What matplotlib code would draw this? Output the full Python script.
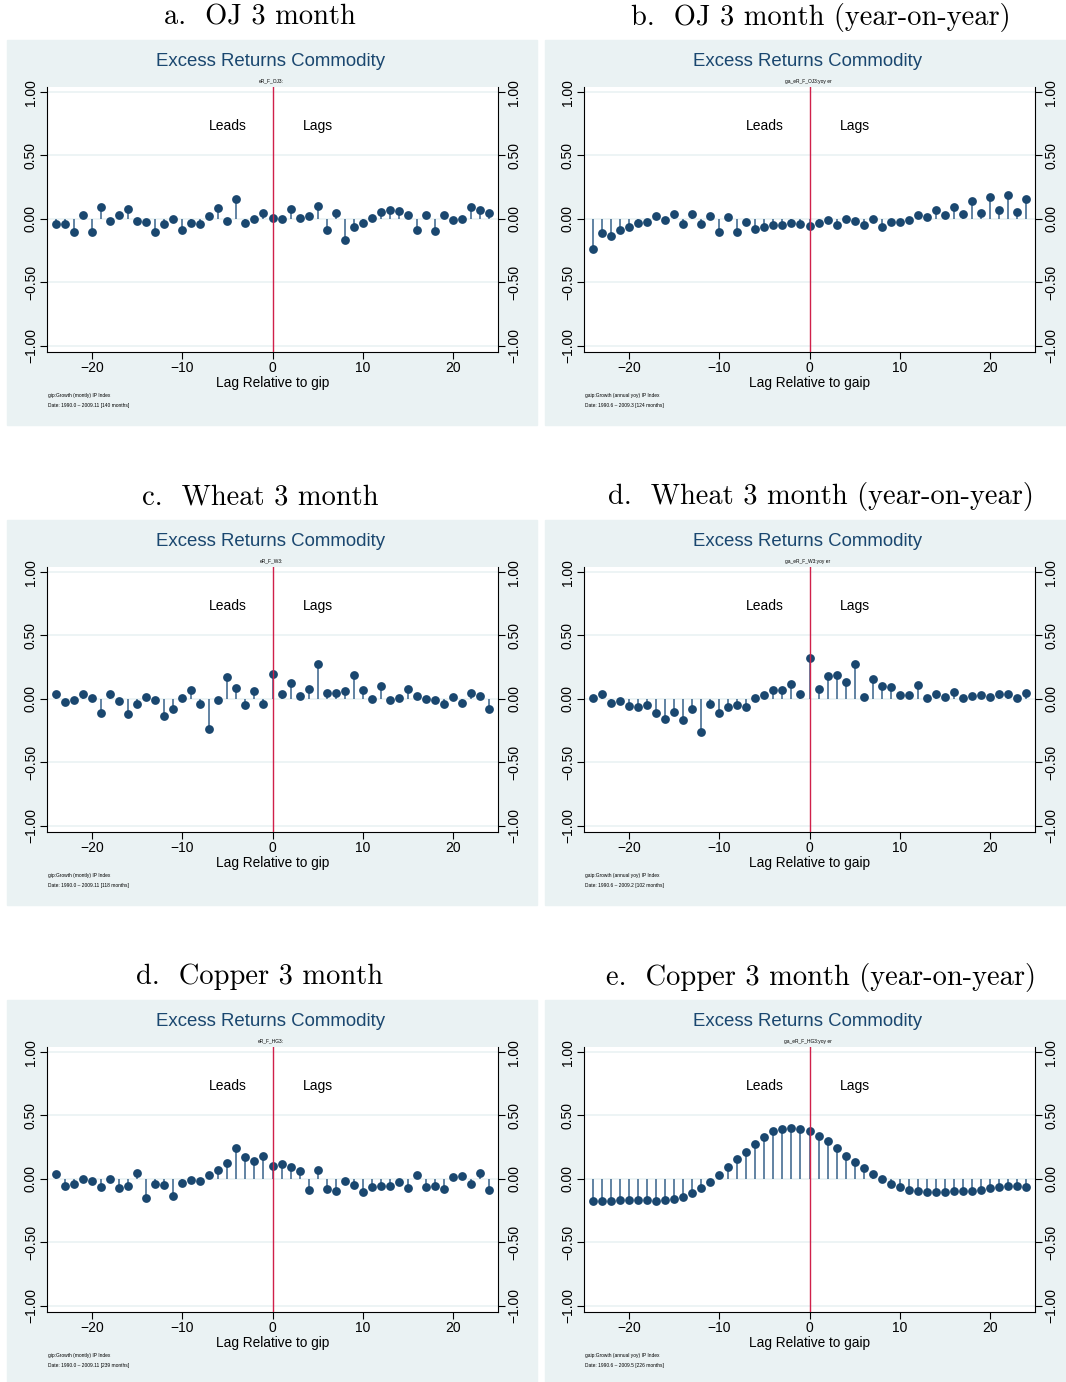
import matplotlib
matplotlib.use("Agg")
import matplotlib.pyplot as plt
import numpy as np
from matplotlib.patches import Rectangle

plt.rcParams['font.family'] = ['Liberation Sans', 'DejaVu Sans']

lags = np.arange(-24, 25)

titles = ["a.  OJ 3 month", "b.  OJ 3 month (year-on-year)",
          "c.  Wheat 3 month", "d.  Wheat 3 month (year-on-year)",
          "d.  Copper 3 month", "e.  Copper 3 month (year-on-year)"]
subtitles = ["eR_F_OJ3:", "ga_eR_F_OJ3:yoy er",
             "eR_F_W3:", "ga_eR_F_W3:yoy er",
             "eR_F_HG3:", "ga_eR_F_HG3:yoy er"]
xlabels = ["Lag Relative to gip", "Lag Relative to gaip"] * 3
note1 = ["gip:Growth (montly) IP Index", "gaip:Growth (annual yoy) IP Index"] * 3
note2 = ["Date: 1990.0 \u2013 2009.11 [140 months]",
         "Date: 1990.6 \u2013 2009.3 [124 months]",
         "Date: 1990.0 \u2013 2009.11 [118 months]",
         "Date: 1990.6 \u2013 2009.2 [102 months]",
         "Date: 1990.0 \u2013 2009.11 [239 months]",
         "Date: 1990.6 \u2013 2009.5 [226 months]"]

oj = [-0.037, -0.037, -0.10, 0.03, -0.10, 0.09, -0.013, 0.03, 0.076, -0.018,
      -0.026, -0.10, -0.04, -0.005, -0.09, -0.03, -0.04, 0.026, 0.087, -0.016,
      0.157, -0.034, -0.003, 0.045, 0.003, 0.0, 0.079, 0.008, 0.024, 0.105,
      -0.087, 0.047, -0.168, -0.063, -0.031, 0.005, 0.055, 0.068, 0.06, 0.029,
      -0.087, 0.031, -0.094, 0.029, -0.01, 0.0, 0.092, 0.073, 0.047]
oj_yoy = [-0.241, -0.11, -0.134, -0.087, -0.068, -0.029, -0.024, 0.024, -0.008, 0.039,
          -0.037, 0.037, -0.042, 0.024, -0.10, 0.016, -0.10, -0.024, -0.081, -0.063,
          -0.045, -0.05, -0.031, -0.039, -0.055, -0.031, -0.008, -0.05, -0.005, -0.013,
          -0.045, -0.003, -0.063, -0.026, -0.021, -0.008, 0.031, 0.016, 0.068, 0.031,
          0.097, 0.039, 0.139, 0.05, 0.173, 0.066, 0.189, 0.052, 0.155]
wheat = [0.037, -0.024, -0.01, 0.037, 0.01, -0.115, 0.042, -0.018, -0.12, -0.042,
         0.016, -0.005, -0.139, -0.076, 0.005, 0.073, -0.039, -0.241, -0.008, 0.171,
         0.084, -0.052, 0.06, -0.037, 0.197, 0.042, 0.126, 0.021, 0.079, 0.278,
         0.045, 0.045, 0.06, 0.186, 0.068, -0.003, 0.102, -0.005, 0.005, 0.081,
         0.021, 0.0, -0.008, -0.037, 0.018, -0.034, 0.045, 0.024, -0.079]
wheat_yoy = [0.005, 0.037, -0.034, -0.013, -0.058, -0.066, -0.047, -0.113, -0.157, -0.10,
             -0.168, -0.081, -0.265, -0.039, -0.113, -0.063, -0.052, -0.063, 0.003, 0.029,
             0.068, 0.071, 0.121, 0.037, 0.32, 0.076, 0.184, 0.186, 0.131, 0.278,
             0.016, 0.16, 0.102, 0.094, 0.029, 0.034, 0.113, 0.005, 0.037, 0.013,
             0.055, 0.005, 0.026, 0.031, 0.016, 0.042, 0.039, 0.008, 0.047]
copper = [0.042, -0.06, -0.037, -0.003, -0.013, -0.066, -0.005, -0.073, -0.06, 0.047,
          -0.152, -0.039, -0.05, -0.134, -0.031, -0.008, -0.016, 0.031, 0.073, 0.123,
          0.241, 0.173, 0.139, 0.178, 0.10, 0.121, 0.092, 0.06, -0.087, 0.068,
          -0.081, -0.097, -0.013, -0.052, -0.102, -0.063, -0.058, -0.058, -0.021, -0.071,
          0.031, -0.063, -0.058, -0.076, 0.018, 0.021, -0.039, 0.047, -0.087]
copper_yoy = [-0.178, -0.171, -0.171, -0.168, -0.163, -0.168, -0.168, -0.171, -0.165, -0.157,
              -0.142, -0.11, -0.071, -0.026, 0.031, 0.094, 0.157, 0.215, 0.276, 0.331,
              0.375, 0.394, 0.402, 0.394, 0.375, 0.336, 0.297, 0.241, 0.181, 0.131,
              0.084, 0.037, -0.003, -0.037, -0.066, -0.084, -0.092, -0.10, -0.105, -0.102,
              -0.092, -0.092, -0.092, -0.084, -0.071, -0.066, -0.06, -0.06, -0.063]
series = [oj, oj_yoy, wheat, wheat_yoy, copper, copper_yoy]

W, H = 1066, 1382
fig = plt.figure(figsize=(W / 100, H / 100), dpi=100)

navy = '#1a476f'
stemc = '#557a9c'
bg = '#eaf2f3'
red = '#d0204a'

col_x = [(7, 537, 47), (545, 1066, 584)]   # bg left, bg right, axis left (px)
row_y = [(40, 425), (520, 905), (1000, 1382)]  # bg top, bg bottom
ax_w, ax_h = 451, 265

def fx(px):
    return px / W

def fy(py):
    return 1 - py / H

for i in range(6):
    r, c = divmod(i, 2)
    bx0, bx1, axl = col_x[c]
    by0, by1 = row_y[r]
    off = r * 480
    axt = 87 + off
    fig.patches.append(Rectangle((fx(bx0), fy(by1)), fx(bx1 - bx0), (by1 - by0) / H,
                                 transform=fig.transFigure, color=bg, zorder=-5))
    ax = fig.add_axes([fx(axl), fy(axt + ax_h), fx(ax_w), ax_h / H])
    ax.set_facecolor('white')
    vals = np.array(series[i])
    for y in [-1, -0.5, 0, 0.5, 1]:
        ax.axhline(y, color=bg, lw=1.2, zorder=1)
    ax.vlines(lags, 0, vals, color=stemc, lw=1.3, zorder=2)
    ax.scatter(lags, vals, s=40, color=navy, zorder=3, linewidths=0)
    ax.axvline(0, color=red, lw=1.0, zorder=4)
    ax.set_xlim(-25, 25)
    ax.set_ylim(-1.05, 1.04)
    ax.set_xticks([-20, -10, 0, 10, 20])
    ax.set_xticklabels(['\u221220', '\u221210', '0', '10', '20'])
    yt = [-1, -0.5, 0, 0.5, 1]
    ax.set_yticks(yt)
    ax.set_yticklabels([('%.2f' % v).replace('-', '\u2212') for v in yt],
                       rotation=90, va='center')
    ax.tick_params(axis='both', direction='out', length=5, width=0.8,
                   labelsize=10, color='black')
    ax.tick_params(axis='x', pad=1.5)
    ax.tick_params(axis='y', right=True, labelright=True, pad=1.5)
    ax.spines['top'].set_visible(False)
    for s in ['left', 'right', 'bottom']:
        ax.spines[s].set_linewidth(0.8)
    ax.text(-5, 0.73, 'Leads', ha='center', va='center', fontsize=10)
    ax.text(5, 0.73, 'Lags', ha='center', va='center', fontsize=10)
    ax.set_xlabel(xlabels[i], fontsize=9.8, labelpad=0.5)

    cx = axl + 224
    fig.text(fx(cx), fy(62 + off), 'Excess Returns Commodity', ha='center', va='center',
             fontsize=13.4, color=navy)
    fig.text(fx(cx), fy(81 + off), subtitles[i], ha='center', va='center', fontsize=3.5)
    fig.text(fx(axl + 1), fy(396 + off), note1[i], ha='left', va='center', fontsize=3.5)
    fig.text(fx(axl + 1), fy(406 + off), note2[i], ha='left', va='center', fontsize=3.5)
    ty = by0 - 23
    tx = (bx0 + bx1) / 2 - 12 if c == 0 else (bx0 + bx1) / 2 + 15
    fig.text(fx(tx), fy(ty), titles[i], ha='center', va='center',
             fontsize=20.5, family='cmr10')

fig.savefig('out.png', dpi=100)
